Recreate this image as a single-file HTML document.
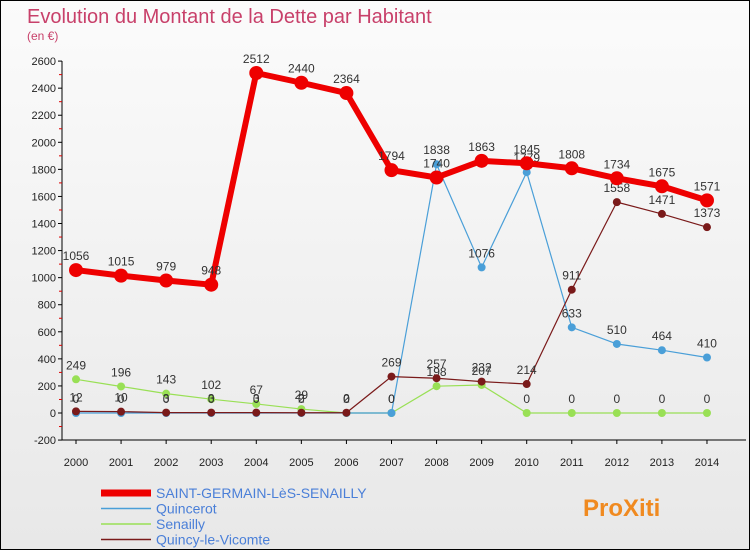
<!DOCTYPE html>
<html><head><meta charset="utf-8"><style>
body{margin:0}
#c{width:748px;height:548px;border:1px solid #000;background:linear-gradient(#fbfbfb,#e8e8e8);position:relative;font-family:"Liberation Sans",sans-serif}
svg{position:absolute;left:0;top:0}
</style></head><body>
<div id="c">
<svg id="s" width="750" height="550">
<text x="26" y="22" font-size="20" fill="#c8406a">Evolution du Montant de la Dette par Habitant</text>
<text x="26" y="39" font-size="12" fill="#c8406a">(en €)</text>
<g id="g"></g>
</svg>
</div>
<script>
const years=[2000,2001,2002,2003,2004,2005,2006,2007,2008,2009,2010,2011,2012,2013,2014];
const ticks=[-200,0,200,400,600,800,1000,1200,1400,1600,1800,2000,2200,2400,2600];
const saint=[1056,1015,979,948,2512,2440,2364,1794,1740,1863,1845,1808,1734,1675,1571];
const quincerot=[0,0,0,0,0,0,0,0,1838,1076,1779,633,510,464,410];
const senailly=[249,196,143,102,67,29,0,0,198,207,0,0,0,0,0];
const quincy=[12,10,3,3,3,2,2,269,257,232,214,911,1558,1471,1373];
const g=document.getElementById('g');const NS='http://www.w3.org/2000/svg';
const x=i=>75+i*45.07;const y=v=>412-v*0.13535;
function el(t,a,p){const e=document.createElementNS(NS,t);for(const k in a)e.setAttribute(k,a[k]);(p||g).appendChild(e);return e;}
let ax=el('line',{x1:61,y1:60,x2:61,y2:439,stroke:'#000'});


let bx=el('line',{x1:61,y1:439,x2:745,y2:439,stroke:'#000'});


ticks.forEach(t=>{el('line',{x1:57,y1:y(t),x2:61,y2:y(t),stroke:'#000'});
if(t<2600)el('line',{x1:58,y1:y(t+100),x2:61,y2:y(t+100),stroke:'#d00'});
const tx=el('text',{x:55,y:y(t)+4,'font-size':11,'text-anchor':'end',fill:'#222'});tx.textContent=t;

});
years.forEach((yr,i)=>{el('line',{x1:x(i),y1:439,x2:x(i),y2:443,stroke:'#000'});
const tx=el('text',{x:x(i),y:465,'font-size':11,'text-anchor':'middle',fill:'#222'});tx.textContent=yr;

});
function series(d,col,w,r,name){
const p=el('polyline',{points:d.map((v,i)=>x(i)+','+y(v)).join(' '),fill:'none',stroke:col,'stroke-width':w,'stroke-linejoin':'round'});


d.forEach((v,i)=>{const c=el('circle',{cx:x(i),cy:y(v),r:r,fill:col});


const t=el('text',{x:x(i),y:y(v)-10,'font-size':12,'text-anchor':'middle',fill:'#333'});t.textContent=v;

});}
series(senailly,'#99e055',1.2,4,'senailly');
series(quincerot,'#4a9fd8',1.2,4,'quincerot');
series(quincy,'#7a1a1a',1.2,4,'quincy');
series(saint,'#ee0000',6,7,'saint-germain');
const leg=[['SAINT-GERMAIN-LèS-SENAILLY','#ee0000',7],['Quincerot','#4a9fd8',1.5],['Senailly','#99e055',1.5],['Quincy-le-Vicomte','#7a1a1a',1.5]];
leg.forEach((l,i)=>{const yy=492+i*15.5;
const ln=el('line',{x1:100,y1:yy,x2:150,y2:yy,stroke:l[1],'stroke-width':l[2]});


const t=el('text',{x:155,y:yy+5,'font-size':14,fill:'#4a7fd8'});t.textContent=l[0];

});
const lg=el('text',{x:582,y:515,'font-size':24,'font-weight':'bold',fill:'#f08a20'});lg.textContent='ProXiti';


</script>
</body></html>
